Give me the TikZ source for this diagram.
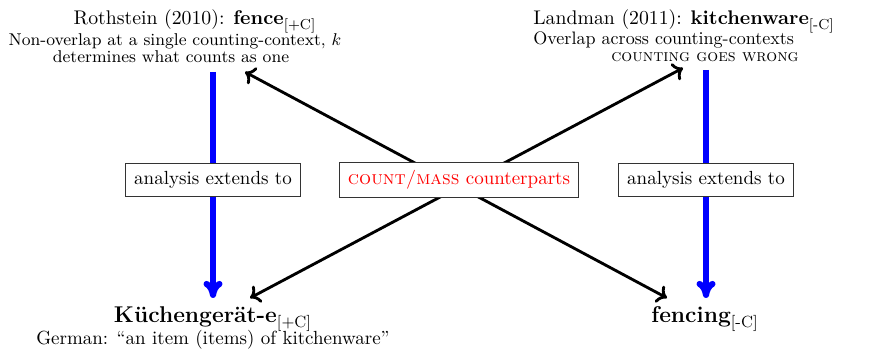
\documentclass[tikz,border=0pt]{standalone}
\usetikzlibrary{arrows.meta}
\newcommand\featsub[2]{$_{\hbox{\normalfont\fontsize{#1}{#1}\selectfont[#2]}}$}
\begin{document}
\begin{tikzpicture}[x=0.5263pt,y=-0.5263pt,
  title/.style={font=\fontsize{10.4}{13}\selectfont,inner sep=0pt,anchor=base},
  titlew/.style={font=\fontsize{10.4}{13}\selectfont,inner sep=0pt,anchor=base west},
  sub/.style={font=\small,inner sep=0pt,anchor=base},
  subw/.style={font=\fontsize{9.5}{11}\selectfont,inner sep=0pt,anchor=base west},
  bottom/.style={font=\large\bfseries,inner sep=0pt,anchor=base},
  ext/.style={draw=black!80,fill=white,inner xsep=4.5pt,inner ysep=4.2pt,font=\normalsize},
  bluearrow/.style={draw=blue,line width=3.2pt,-{To[length=9pt,width=10pt]}},
  bluel/.style={draw=blue,line width=3.2pt},
  blackarrow/.style={line width=1.5pt,{To[length=5pt,width=10pt]}-{To[length=5pt,width=10pt]}}
  ]
\useasboundingbox (0,0) rectangle (879,349);
% top left
\node[title] (rt) at (195,25) {Rothstein (2010): \textbf{fence}\featsub{7.6}{+C}};
\node[sub] (rs1) at (175,46) {Non-overlap at a single counting-context, $k$};
\node[sub] (rs2) at (171,63) {determines what counts as one};
% top right
\node[titlew] (lt) at (533,25) {Landman (2011): \textbf{kitchenware}\featsub{7.6}{-C}};
\node[subw] (ls1) at (533,45) {Overlap across counting-contexts};
\node[sub] (ls2) at (705,62) {\textsc{counting goes wrong}};
% bottom
\node[bottom] (kg) at (213,323) {Küchengerät-e\featsub{8.5}{+C}};
\node[font=\normalsize,inner sep=0pt,anchor=base] (kgs) at (213,345) {German: ``an item (items) of kitchenware''};
\node[bottom] (fc) at (705,323) {fencing\featsub{8.5}{-C}};
% endpoints
\coordinate (bLtop) at (213,72);
\coordinate (bLbot) at (213,298);
\coordinate (bRtop) at (706,70);
\coordinate (bRbot) at (706,298);
\coordinate (aTL) at (245,72);
\coordinate (aBR) at (667,298);
\coordinate (aTR) at (683,68);
\coordinate (aBL) at (250,298);
% crossing arrows
\draw[blackarrow] (aTL) -- (aBR);
\draw[blackarrow] (aTR) -- (aBL);
% boxes
\node[ext] (eL) at (213,180) {analysis extends to};
\node[ext] (eR) at (706,180) {analysis extends to};
\node[ext,text=red] (cm) at (459,180) {\textsc{count/mass} counterparts};
% blue arrows
\draw[bluel] (bLtop) -- (eL);
\draw[bluearrow] (eL) -- (bLbot);
\draw[bluel] (bRtop) -- (eR);
\draw[bluearrow] (eR) -- (bRbot);
\end{tikzpicture}
\end{document}
